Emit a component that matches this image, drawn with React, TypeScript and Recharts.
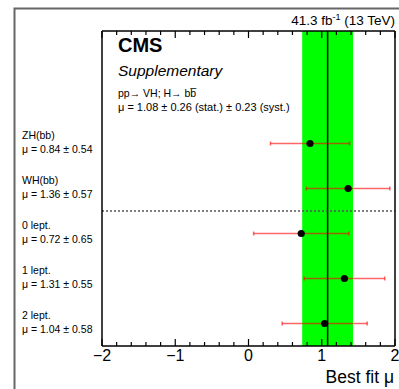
import React from 'react';
import {
  ScatterChart,
  Scatter,
  ErrorBar,
  XAxis,
  YAxis,
  ReferenceArea,
  ReferenceLine,
} from 'recharts';

// Channel results (top to bottom)
const channelNames = ['ZH(bb)', 'WH(bb)', '0 lept.', '1 lept.', '2 lept.'];
const channelMu = [0.84, 1.36, 0.72, 1.31, 1.04];
const channelErr = [0.54, 0.57, 0.65, 0.55, 0.58];
const channelRow = [5, 4, 3, 2, 1];

// Combined fit
const combinedMu = 1.08;
const statErr = 0.26;
const systErr = 0.23;
const separatorRow = 3.5;

const majorTicks = [-2, -1, 0, 1, 2];
const allTicks = [
  -2, -1.8, -1.6, -1.4, -1.2, -1, -0.8, -0.6, -0.4, -0.2, 0,
  0.2, 0.4, 0.6, 0.8, 1, 1.2, 1.4, 1.6, 1.8, 2,
];
const rowTicks = [1, 2, 3, 4, 5];

const W = 399;
const H = 389;
const MARGIN = { top: 30, right: 3, bottom: 42, left: 101 };
// axes are 1px thick, so the plot box is the margin plus one
const PLOT_H = H - MARGIN.top - MARGIN.bottom - 2;
const FONT = '"Liberation Sans", Arial, Helvetica, sans-serif';
const TINY = 0.001; // keeps recharts from swapping a zero tick size for its default

const totalErr = Math.sqrt(statErr * statErr + systErr * systErr);

const points = channelNames.map((name, i) => ({
  name,
  mu: channelMu[i],
  row: channelRow[i],
  err: channelErr[i],
}));

const fmt = (v: number) => v.toFixed(2);
const isMajor = (v: number) => majorTicks.some((m) => Math.abs(m - v) < 1e-6);

// bottom axis tick: draws the inward tick at the bottom, the mirrored one at the top, and the label
const FrameTick = (props: any) => {
  const { x, y, payload } = props;
  const major = isMajor(payload.value);
  const len = major ? 7 : 4;
  const top = y - PLOT_H;
  return (
    <g>
      <line x1={x} y1={y} x2={x} y2={y - len} stroke="#000" strokeWidth={1.2} />
      <line x1={x} y1={top} x2={x} y2={top + len} stroke="#000" strokeWidth={1.2} />
      {major && (
        <text x={x} y={y + 15} textAnchor="middle" fontSize={16} fontFamily={FONT} fill="#000">
          {payload.value < 0 ? `\u2212${Math.abs(payload.value)}` : payload.value}
        </text>
      )}
    </g>
  );
};

const RowLabel = (props: any) => {
  const { x, y, payload } = props;
  const i = channelRow.indexOf(payload.value);
  if (i < 0) return null;
  return (
    <g fontFamily={FONT} fontSize={10.5} fill="#000">
      <text x={x - 80} y={y - 5} textAnchor="start">{channelNames[i]}</text>
      <text x={x - 80} y={y + 9.5} textAnchor="start">
        {`\u03bc = ${fmt(channelMu[i])} \u00b1 ${fmt(channelErr[i])}`}
      </text>
    </g>
  );
};

const Dot = (props: any) => {
  const { cx, cy } = props;
  return <circle cx={cx} cy={cy} r={3.6} fill="#000" />;
};

export default function App() {
  return (
    <div style={{ position: 'absolute', left: 0, top: 0, width: W, height: H, background: '#fff' }}>
      <ScatterChart width={W} height={H} margin={MARGIN}>
        <ReferenceArea x1={combinedMu - totalErr} x2={combinedMu + totalErr} fill="#00ff00" fillOpacity={1} stroke="none" ifOverflow="visible" />
        <ReferenceLine x={combinedMu} stroke="#000" strokeWidth={1.5} />
        <ReferenceLine y={separatorRow} stroke="#555" strokeWidth={1.5} strokeDasharray="2 2" />
        <XAxis
          type="number"
          dataKey="mu"
          domain={[-2, 2]}
          ticks={allTicks}
          interval={0}
          height={1}
          tickSize={TINY}
          tickMargin={TINY}
          tick={<FrameTick />}
          tickLine={false}
          axisLine={{ stroke: '#000', strokeWidth: 1.5 }}
          allowDataOverflow
        />
        <XAxis
          xAxisId="top"
          orientation="top"
          type="number"
          domain={[-2, 2]}
          height={1}
          tick={false}
          tickLine={false}
          axisLine={{ stroke: '#000', strokeWidth: 1.5 }}
        />
        <YAxis
          type="number"
          dataKey="row"
          domain={[0.5, 7.5]}
          ticks={rowTicks}
          interval={0}
          width={1}
          tickSize={TINY}
          tickMargin={TINY}
          tick={<RowLabel />}
          tickLine={false}
          axisLine={{ stroke: '#000', strokeWidth: 1.5 }}
          allowDataOverflow
        />
        <YAxis
          yAxisId="right"
          orientation="right"
          type="number"
          domain={[0.5, 7.5]}
          width={1}
          tick={false}
          tickLine={false}
          axisLine={{ stroke: '#000', strokeWidth: 1.5 }}
        />
        <Scatter data={points} shape={<Dot />} isAnimationActive={false}>
          <ErrorBar dataKey="err" direction="x" width={2} stroke="#ff0000" strokeOpacity={0.6} strokeWidth={1.5} isAnimationActive={false} />
        </Scatter>
      </ScatterChart>
      <svg width={W} height={H} style={{ position: 'absolute', left: 0, top: 0, pointerEvents: 'none' }}>
        <path d={`M14.5 ${H + 2} V8.5 H${W + 2}`} fill="none" stroke="#666" strokeWidth={2} />
        <text x={395} y={25} textAnchor="end" fontFamily={FONT} fontSize={13.5} fill="#000">
          41.3 fb
          <tspan dy={-5} fontSize={9}>-1</tspan>
          <tspan dy={5}> (13 TeV)</tspan>
        </text>
        <text x={118} y={52} fontFamily={FONT} fontSize={20} fontWeight="bold" fill="#000">CMS</text>
        <text x={118} y={76} fontFamily={FONT} fontSize={15.5} fontStyle="italic" fill="#000">Supplementary</text>
        <text x={118} y={97} fontFamily={FONT} fontSize={10.5} fill="#000">
          {'pp\u2192 VH; H\u2192 bb\u0305'}
        </text>
        <text x={118} y={111} fontFamily={FONT} fontSize={11} fill="#000">
          {`\u03bc = ${fmt(combinedMu)} \u00b1 ${fmt(statErr)} (stat.) \u00b1 ${fmt(systErr)} (syst.)`}
        </text>
        <text x={394} y={383} textAnchor="end" fontFamily={FONT} fontSize={17.5} fill="#000">
          Best fit {'\u03bc'}
        </text>
      </svg>
    </div>
  );
}
